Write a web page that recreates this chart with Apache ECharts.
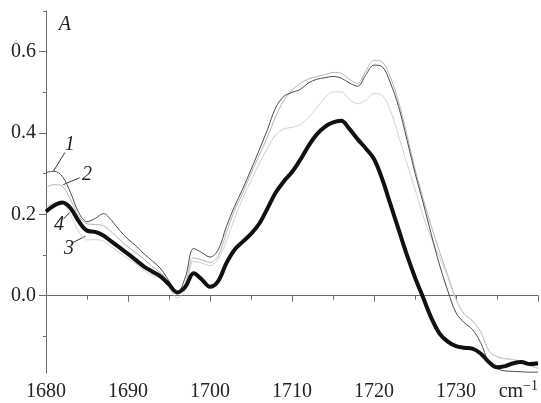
<!DOCTYPE html>
<html>
<head>
<meta charset="utf-8">
<script src="https://cdn.jsdelivr.net/npm/echarts@6/dist/echarts.min.js"></script>
<style>
  html, body { margin: 0; padding: 0; background: #fff; }
  #chart { width: 541px; height: 403px; }
</style>
</head>
<body>
<div id="chart"></div>
<script>
// wavenumber, cm-1
var wavenumbers = [];
for (var w = 1680; w <= 1740; w++) wavenumbers.push(w);

// absorbance, one value per wavenumber
var curve1 = [0.303, 0.306, 0.293, 0.253, 0.204, 0.182, 0.190, 0.202, 0.185, 0.160,
  0.139, 0.122, 0.102, 0.085, 0.066, 0.036, 0.007, 0.046, 0.116, 0.106,
  0.095, 0.113, 0.170, 0.220, 0.263, 0.310, 0.358, 0.408, 0.462, 0.490,
  0.500, 0.507, 0.523, 0.532, 0.536, 0.539, 0.535, 0.523, 0.515, 0.543,
  0.567, 0.563, 0.523, 0.465, 0.385, 0.302, 0.228, 0.150, 0.075, 0.012,
  -0.042, -0.066, -0.083, -0.115, -0.163, -0.179, -0.185, -0.186, -0.187, -0.188, -0.188];
var curve2 = [0.267, 0.273, 0.269, 0.236, 0.195, 0.177, 0.175, 0.172, 0.156, 0.138,
  0.120, 0.105, 0.089, 0.071, 0.056, 0.030, 0.005, 0.032, 0.093, 0.088,
  0.082, 0.098, 0.155, 0.210, 0.253, 0.300, 0.345, 0.390, 0.440, 0.480,
  0.505, 0.522, 0.533, 0.539, 0.543, 0.549, 0.547, 0.532, 0.522, 0.552,
  0.579, 0.575, 0.537, 0.477, 0.397, 0.312, 0.238, 0.170, 0.108, 0.050,
  -0.008, -0.045, -0.062, -0.088, -0.135, -0.150, -0.155, -0.157, -0.163, -0.172, -0.178];
var curve3 = [0.215, 0.228, 0.226, 0.198, 0.157, 0.137, 0.138, 0.134, 0.120, 0.105,
  0.091, 0.077, 0.061, 0.050, 0.041, 0.020, -0.005, 0.015, 0.085, 0.080,
  0.074, 0.090, 0.135, 0.190, 0.240, 0.283, 0.325, 0.362, 0.395, 0.410,
  0.414, 0.421, 0.438, 0.462, 0.486, 0.501, 0.501, 0.483, 0.472, 0.480,
  0.497, 0.493, 0.455, 0.393, 0.326, 0.262, 0.196, 0.140, 0.095, 0.045,
  -0.010, -0.045, -0.062, -0.088, -0.135, -0.150, -0.155, -0.157, -0.163, -0.172, -0.178];
var curve4 = [0.207, 0.222, 0.229, 0.215, 0.183, 0.160, 0.157, 0.148, 0.133, 0.118,
  0.103, 0.087, 0.071, 0.059, 0.047, 0.028, 0.008, 0.022, 0.055, 0.040,
  0.022, 0.036, 0.080, 0.113, 0.133, 0.152, 0.177, 0.214, 0.253, 0.281,
  0.304, 0.334, 0.368, 0.396, 0.415, 0.426, 0.430, 0.410, 0.385, 0.362,
  0.336, 0.287, 0.225, 0.163, 0.101, 0.045, -0.005, -0.055, -0.093, -0.113,
  -0.124, -0.128, -0.130, -0.142, -0.163, -0.176, -0.173, -0.166, -0.163, -0.168, -0.166];

var yMin = -0.19, yMax = 0.7;
var yLabelTicks = [0, 0.2, 0.4, 0.6];
var yMinorTicks = [-0.1, 0.1, 0.3, 0.5, 0.7];

// curve labels: text, anchor of label, leader from, leader to
var curveLabels = [
  { text: '1', at: [1682.9, 0.372], from: [1682.3, 0.352], to: [1680.9, 0.306] },
  { text: '2', at: [1685.0, 0.298], from: [1684.1, 0.290], to: [1682.1, 0.273] },
  { text: '4', at: [1681.6, 0.175], from: [1682.1, 0.188], to: [1683.0, 0.207] },
  { text: '3', at: [1682.8, 0.116], from: [1683.3, 0.131], to: [1684.8, 0.146] }
];

var serif = 'Liberation Serif';

function pairs(vals) {
  return wavenumbers.map((x, i) => [x, vals[i]]);
}

var chart = echarts.init(document.getElementById('chart'), null, { renderer: 'canvas' });

var axisGrey = '#6a6a6a';
var option = {
  animation: false,
  backgroundColor: '#fff',
  grid: { left: 46, right: 3, top: 11, bottom: 30, containLabel: false },
  xAxis: {
    type: 'value',
    min: 1680,
    max: 1740,
    interval: 10,
    axisLine: { show: true, lineStyle: { color: axisGrey, width: 1 } },
    axisTick: { show: true, length: 6, lineStyle: { color: axisGrey } },
    minorTick: { show: true, splitNumber: 2, length: 4, lineStyle: { color: axisGrey } },
    splitLine: { show: false },
    axisLabel: {
      color: '#222',
      fontFamily: serif,
      fontSize: 20,
      margin: 9,
      formatter: v => (v === 1740 ? '' : String(v))
    }
  },
  yAxis: [
    {
      type: 'value',
      min: yMin,
      max: yMax,
      axisLine: { show: true, lineStyle: { color: axisGrey, width: 1 } },
      axisTick: { show: true, length: 7, customValues: yLabelTicks, lineStyle: { color: axisGrey } },
      splitLine: { show: false },
      axisLabel: {
        color: '#222',
        fontFamily: serif,
        fontSize: 20,
        margin: 10,
        customValues: yLabelTicks,
        formatter: v => v.toFixed(1)
      }
    },
    {
      type: 'value',
      min: yMin,
      max: yMax,
      position: 'left',
      axisLine: { show: false },
      axisTick: { show: true, length: 3, customValues: yMinorTicks, lineStyle: { color: axisGrey } },
      splitLine: { show: false },
      axisLabel: { show: false }
    }
  ],
  series: [
    {
      type: 'line', name: '2', data: pairs(curve2), smooth: 0.35, showSymbol: false,
      lineStyle: { color: '#b4b4b4', width: 1 }
    },
    {
      type: 'line', name: '3', data: pairs(curve3), smooth: 0.35, showSymbol: false,
      lineStyle: { color: '#d2d2d2', width: 1 }
    },
    {
      type: 'line', name: '1', data: pairs(curve1), smooth: 0.35, showSymbol: false,
      lineStyle: { color: '#4a4a4a', width: 1 }
    },
    {
      type: 'line', name: '4', data: pairs(curve4), smooth: 0.35, showSymbol: false,
      lineStyle: { color: '#111', width: 4 }
    }
  ]
};
chart.setOption(option);

// annotations placed from data coordinates
function px(p) {
  return chart.convertToPixel({ gridIndex: 0 }, p);
}
var graphics = [];
curveLabels.forEach(l => {
  var a = px(l.from), b = px(l.to), c = px(l.at);
  graphics.push({
    type: 'line',
    shape: { x1: a[0], y1: a[1], x2: b[0], y2: b[1] },
    style: { stroke: '#333', lineWidth: 1 }
  });
  graphics.push({
    type: 'text',
    x: c[0], y: c[1],
    style: {
      text: l.text, fill: '#222', font: 'italic 20px ' + serif,
      align: 'center', verticalAlign: 'middle'
    }
  });
});
var aPos = px([1682.3, 0.667]);
graphics.push({
  type: 'text', x: aPos[0], y: aPos[1],
  style: { text: 'A', fill: '#222', font: 'italic 20px ' + serif, align: 'center', verticalAlign: 'middle' }
});
var uPos = px([1740, yMin]);
graphics.push({
  type: 'text', x: uPos[0], y: uPos[1] + 6,
  style: {
    text: '{m|cm}{s|−1}',
    align: 'right', verticalAlign: 'top',
    rich: {
      m: { fontFamily: serif, fontSize: 20, fill: '#222', verticalAlign: 'bottom' },
      s: { fontFamily: serif, fontSize: 14, fill: '#222', verticalAlign: 'top', padding: [0, 0, 9, 0] }
    }
  }
});
chart.setOption({ graphic: graphics });
</script>
</body>
</html>
